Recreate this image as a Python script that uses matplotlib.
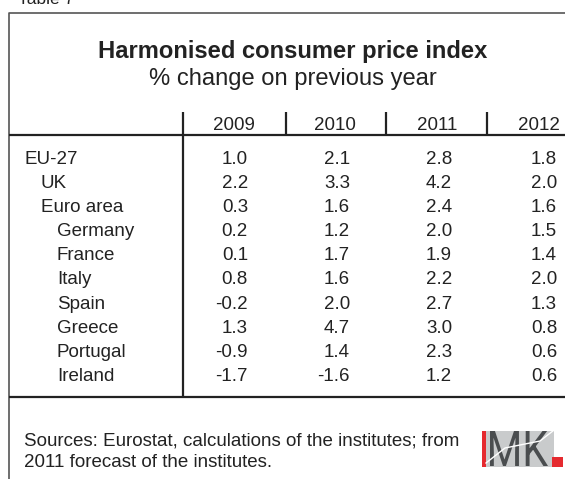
import matplotlib
matplotlib.use("Agg")
import matplotlib.pyplot as plt
from matplotlib.textpath import TextPath
from matplotlib.patches import PathPatch, Rectangle
from matplotlib.font_manager import FontProperties
from matplotlib.transforms import Affine2D

# ---- data ----
title = "Harmonised consumer price index"
subtitle = "% change on previous year"
table_label = "Table 7"
years = ["2009", "2010", "2011", "2012"]
countries = ["EU-27", "UK", "Euro area", "Germany", "France", "Italy",
             "Spain", "Greece", "Portugal", "Ireland"]
indent = [0, 1, 1, 2, 2, 2, 2, 2, 2, 2]
v2009 = [1.0, 2.2, 0.3, 0.2, 0.1, 0.8, -0.2, 1.3, -0.9, -1.7]
v2010 = [2.1, 3.3, 1.6, 1.2, 1.7, 1.6, 2.0, 4.7, 1.4, -1.6]
v2011 = [2.8, 4.2, 2.4, 2.0, 1.9, 2.2, 2.7, 3.0, 2.3, 1.2]
v2012 = [1.8, 2.0, 1.6, 1.5, 1.4, 2.0, 1.3, 0.8, 0.6, 0.6]
source_lines = ["Sources: Eurostat, calculations of the institutes; from",
                "2011 forecast of the institutes."]

plt.rcParams['font.family'] = ['Liberation Sans', 'DejaVu Sans']
W, H = 565, 479
fig = plt.figure(figsize=(W / 100, H / 100), dpi=100)
ax = fig.add_axes([0, 0, 1, 1])
ax.set_xlim(0, W)
ax.set_ylim(H, 0)
ax.axis('off')

txt = '#222222'
body = 13.5

# frame
ax.plot([9, 9, W + 5], [H + 5, 12.5, 12.5], color='#555555', lw=1.2,
        solid_capstyle='butt')
ax.text(18, 3.5, table_label, fontsize=12.5, color=txt, va='baseline', ha='left')

# title
ax.text(293, 58, title, fontsize=17.1, fontweight='bold', color=txt,
        ha='center', va='baseline')
ax.text(293, 85, subtitle, fontsize=17.1, color=txt, ha='center', va='baseline')

# table lines
ax.plot([9, W + 5], [135, 135], color=txt, lw=1.6, solid_capstyle='butt')
ax.plot([9, W + 5], [396.5, 396.5], color=txt, lw=1.6, solid_capstyle='butt')
ax.plot([183, 183], [112, 396.5], color=txt, lw=1.6, solid_capstyle='butt')
for xs in [285.5, 386, 486.5]:
    ax.plot([xs, xs], [112, 135], color=txt, lw=1.6, solid_capstyle='butt')

# headers
year_cx = [234, 335, 437, 539]
for cx, yr in zip(year_cx, years):
    ax.text(cx, 130, yr, fontsize=body, color=txt, ha='center', va='baseline')

# rows
y0, dy = 163.5, 24.2
col_right = [248, 350, 452, 557]
label_x = [24, 41, 57]
series = [v2009, v2010, v2011, v2012]
for i, name in enumerate(countries):
    yb = y0 + i * dy
    ax.text(label_x[indent[i]], yb, name, fontsize=body, color=txt,
            ha='left', va='baseline')
    for xr, s in zip(col_right, series):
        ax.text(xr, yb, f"{s[i]:.1f}", fontsize=body, color=txt,
                ha='right', va='baseline')

# sources
ax.text(24, 446, source_lines[0], fontsize=body, color=txt, ha='left', va='baseline')
ax.text(24, 467, source_lines[1], fontsize=body, color=txt, ha='left', va='baseline')

# IMK logo
ax.add_patch(Rectangle((481.5, 430.5), 72, 36, facecolor='#c9cbcc',
                       edgecolor='none'))
ax.plot([486, 505, 540, 553.5], [463, 448, 441, 430.5], color='white', lw=1.0)
ax.add_patch(Rectangle((481.5, 430.5), 4.5, 36, facecolor='#e52a2f',
                       edgecolor='none'))
ax.add_patch(Rectangle((551.5, 456.5), 11, 10, facecolor='#e52a2f',
                       edgecolor='none'))
fp = FontProperties(family='Roboto', weight='normal')
tp = TextPath((0, 0), "MK", size=100, prop=fp)
ext = tp.get_extents()
sx = (548 - 490) / ext.width
sy = (466 - 431) / ext.height
tr = Affine2D().translate(-ext.x0, -ext.y0).scale(sx, -sy).translate(490, 466)
ax.add_patch(PathPatch(tr.transform_path(tp), facecolor='#4a4d4f',
                       edgecolor='none'))

fig.savefig("out.png", dpi=100)
